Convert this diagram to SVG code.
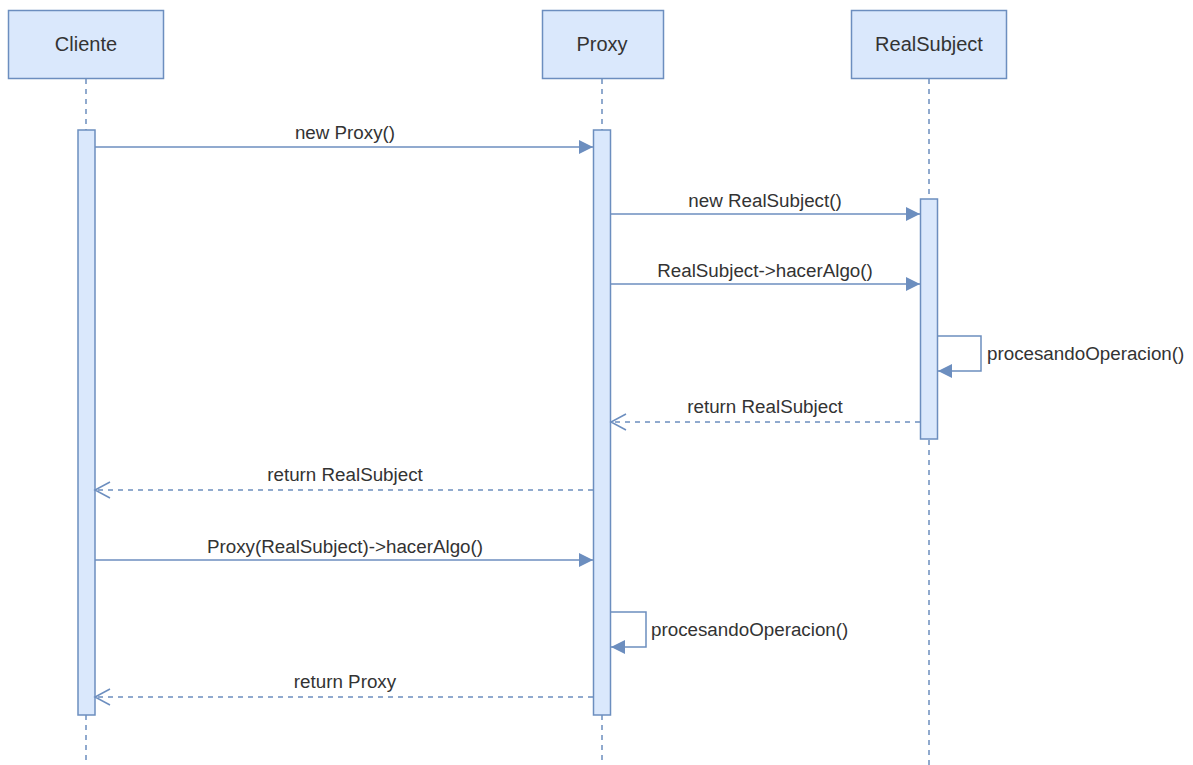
<svg xmlns="http://www.w3.org/2000/svg" width="1193" height="765" viewBox="0 0 1193 765">
<style>
.box{fill:#dae8fc;stroke:#6c8ebf;stroke-width:1.5}
.life{stroke:#6c8ebf;stroke-width:1.5;stroke-dasharray:5 5;fill:none}
.msg{stroke:#6c8ebf;stroke-width:1.5;fill:none}
.ret{stroke:#6c8ebf;stroke-width:1.5;fill:none;stroke-dasharray:5 5}
.hd{font-family:"Liberation Sans",Arial,sans-serif;font-size:20px;fill:#333333;text-anchor:middle}
.lb{font-family:"Liberation Sans",Arial,sans-serif;font-size:18.8px;fill:#333333;text-anchor:middle}
.lbl{font-family:"Liberation Sans",Arial,sans-serif;font-size:18.8px;fill:#333333;text-anchor:start}
</style>
<defs>
<marker id="fill" markerUnits="userSpaceOnUse" markerWidth="16" markerHeight="16" refX="14" refY="7" orient="auto">
<path d="M0,0 L14,7 L0,14 Z" fill="#6c8ebf"/>
</marker>
<marker id="open" markerUnits="userSpaceOnUse" markerWidth="20" markerHeight="20" refX="16" refY="9" orient="auto">
<path d="M1,1 L16,9 L1,17" fill="none" stroke="#6c8ebf" stroke-width="1.5"/>
</marker>
</defs>
<rect width="1193" height="765" fill="#ffffff"/>

<g id="lifelines">
<line class="life" x1="86" y1="79" x2="86" y2="130"/>
<line class="life" x1="86" y1="715" x2="86" y2="765"/>
<line class="life" x1="602" y1="79" x2="602" y2="130"/>
<line class="life" x1="602" y1="715" x2="602" y2="765"/>
<line class="life" x1="929" y1="79" x2="929" y2="199"/>
<line class="life" x1="929" y1="440" x2="929" y2="765"/>
</g>

<g id="cliente">
<rect class="box" x="8.5" y="10.5" width="155" height="68"/>
<text class="hd" x="86" y="51">Cliente</text>
<rect class="box" x="78" y="130" width="17" height="585"/>
</g>

<g id="proxy">
<rect class="box" x="542.5" y="10.5" width="121" height="68"/>
<text class="hd" x="602" y="51">Proxy</text>
<rect class="box" x="593.5" y="130" width="17" height="585"/>
</g>

<g id="realsubject">
<rect class="box" x="851.5" y="10.5" width="155" height="68"/>
<text class="hd" x="929" y="51">RealSubject</text>
<rect class="box" x="920.5" y="199" width="17" height="240"/>
</g>

<g id="connectors">
<line class="msg" x1="95" y1="147" x2="593" y2="147" marker-end="url(#fill)"/>
<text class="lb" x="345" y="139">new Proxy()</text>

<line class="msg" x1="611" y1="214" x2="920" y2="214" marker-end="url(#fill)"/>
<text class="lb" x="765" y="207">new RealSubject()</text>

<line class="msg" x1="611" y1="284" x2="920" y2="284" marker-end="url(#fill)"/>
<text class="lb" x="765" y="277">RealSubject-&gt;hacerAlgo()</text>

<path class="msg" d="M938,336 L981,336 L981,371 L938,371" marker-end="url(#fill)"/>
<text class="lbl" x="987" y="360">procesandoOperacion()</text>

<line class="ret" x1="920" y1="422" x2="611" y2="422" marker-end="url(#open)"/>
<text class="lb" x="765" y="413">return RealSubject</text>

<line class="ret" x1="593" y1="490" x2="95" y2="490" marker-end="url(#open)"/>
<text class="lb" x="345" y="481">return RealSubject</text>

<line class="msg" x1="95" y1="560" x2="593" y2="560" marker-end="url(#fill)"/>
<text class="lb" x="345" y="553">Proxy(RealSubject)-&gt;hacerAlgo()</text>

<path class="msg" d="M611,612 L646,612 L646,647 L611,647" marker-end="url(#fill)"/>
<text class="lbl" x="651" y="636">procesandoOperacion()</text>

<line class="ret" x1="593" y1="697" x2="95" y2="697" marker-end="url(#open)"/>
<text class="lb" x="345" y="688">return Proxy</text>
</g>
</svg>
